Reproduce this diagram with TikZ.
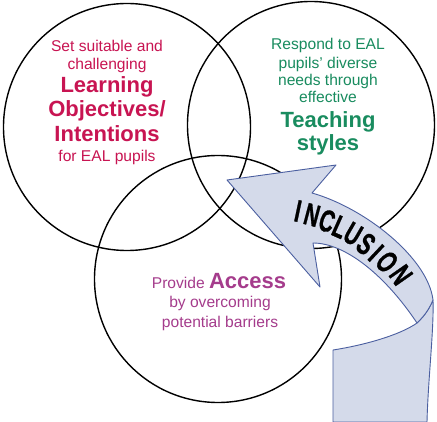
\documentclass[tikz,border=0pt]{standalone}
\usepackage{fontspec}
\setmainfont{Liberation Sans}
\newfontfamily\incfont[BoldFeatures={FakeBold=1.2}]{Liberation Sans}
\usepackage{graphicx}
\definecolor{crim}{RGB}{200,20,82}
\definecolor{grn}{RGB}{25,140,95}
\definecolor{purp}{RGB}{165,60,140}
\definecolor{ribfill}{RGB}{212,218,234}
\definecolor{ribline}{RGB}{75,95,160}
\newcommand\inclet[1]{\scalebox{0.66}[1]{#1}}
\begin{document}
\begin{tikzpicture}[x=1pt,y=-1pt,
  ring/.style={circle,draw=black,line width=1.4pt,minimum size=247pt,inner sep=0pt},
  small/.style={font=\fontsize{15.6}{18}\selectfont,anchor=base,inner sep=0pt},
  big/.style={font=\fontsize{22}{25}\selectfont\bfseries,anchor=base,inner sep=0pt},
  ribbon/.style={fill=ribfill,draw=ribline,line width=0.9pt,line join=round},
  letter/.style={font=\incfont\fontsize{31}{32}\selectfont\bfseries,inner sep=0pt}]
\fill[white] (0,0) rectangle (437,422);
\useasboundingbox (0,0) rectangle (437,422);
% circles
\node[ring] (cL) at (127,127) {};
\node[ring] (cR) at (311,125) {};
\node[ring] (cB) at (218,279) {};
% ribbon back face
\path[ribbon] (333,422) -- (333,350)
  .. controls (365,345) and (400,335) .. (417,323)
  .. controls (422,318) and (428,312) .. (433,300)
  .. controls (434,330) and (428,380) .. (427,422) -- cycle;
% ribbon front face with arrow head
\path[ribbon] (227,180) -- (336,165) -- (312,193)
  .. controls (365,208) and (428,258) .. (433,300)
  .. controls (428,312) and (422,318) .. (417,323)
  .. controls (385,275) and (345,243) .. (313,243)
  -- (320,287) -- cycle;
% INCLUSION
\node[letter,rotate=-12] (i1) at (298,211) {\inclet{I}};
\node[letter,rotate=-15] (i2) at (312,215) {\inclet{N}};
\node[letter,rotate=-19] (i3) at (327,221) {\inclet{C}};
\node[letter,rotate=-24] (i4) at (340,227) {\inclet{L}};
\node[letter,rotate=-30] (i5) at (353,234) {\inclet{U}};
\node[letter,rotate=-37] (i6) at (366,244) {\inclet{S}};
\node[letter,rotate=-43] (i7) at (376,253) {\inclet{I}};
\node[letter,rotate=-49] (i8) at (387,262) {\inclet{O}};
\node[letter,rotate=-55] (i9) at (401,275) {\inclet{N}};
% left circle text
\node[small,text=crim] (l1) at (107,52) {Set suitable and};
\node[small,text=crim] (l2) at (107,70) {challenging};
\node[big,text=crim] (l3) at (107,93) {Learning};
\node[big,text=crim] (l4) at (107,117) {Objectives/};
\node[big,text=crim] (l5) at (107,142) {Intentions};
\node[small,text=crim] (l6) at (107,162) {for EAL pupils};
% right circle text
\node[small,text=grn] (r1) at (328,50) {Respond to EAL};
\node[small,text=grn] (r2) at (328,69) {pupils’ diverse};
\node[small,text=grn] (r3) at (328,86) {needs through};
\node[small,text=grn] (r4) at (328,103) {effective};
\node[big,text=grn] (r5) at (328,128) {Teaching};
\node[big,text=grn] (r6) at (328,151) {styles};
% bottom circle text
\node[small,text=purp] (b1) at (219,289) {Provide {\fontsize{22}{25}\selectfont\bfseries Access}};
\node[small,text=purp] (b2) at (220,308) {by overcoming};
\node[small,text=purp] (b3) at (220,328) {potential barriers};
\end{tikzpicture}
\end{document}
